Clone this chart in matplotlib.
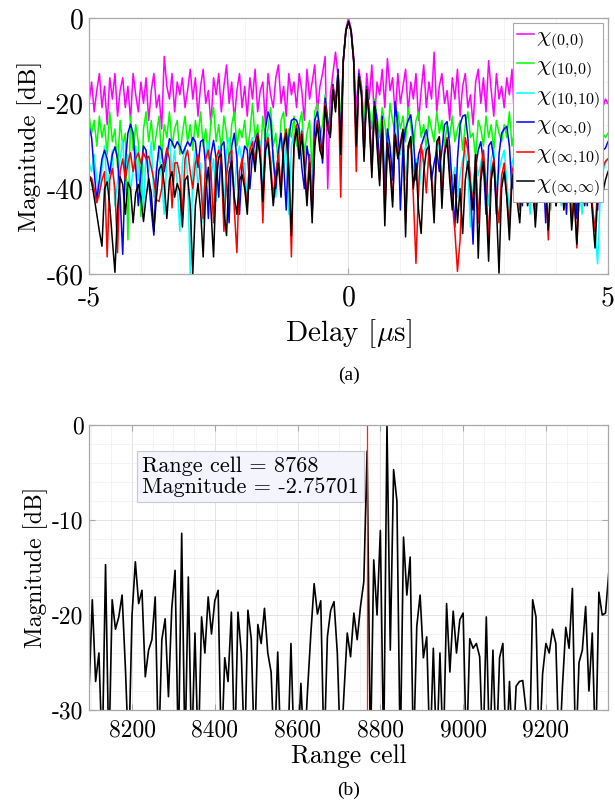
import numpy as np
import matplotlib
matplotlib.use("Agg")
import matplotlib.pyplot as plt
from matplotlib.ticker import MultipleLocator

# ---------------- (a) ambiguity cuts, delay in microseconds ----------------
delay = np.round(np.arange(-5.0, 5.0001, 0.05), 2)

chi_00 = [
    -20, -15, -22, -17, -13, -21, -16, -25, -14, -19, -13, -23, -17, -14, -21, -16, -24, -13, -18, -22,
    -15, -20, -14, -24, -17, -13, -21, -18, -26, -9, -16, -19, -13, -22, -15, -18, -14, -21, -17, -12,
    -19, -14, -23, -16, -12, -20, -17, -25, -14, -18, -13, -22, -16, -11, -20, -15, -24, -17, -13, -21,
    -16, -23, -14, -19, -12, -22, -17, -15, -25, -13, -18, -21, -14, -11, -20, -16, -23, -13, -18, -15,
    -21, -13, -17, -24, -12, -19, -15, -11, -22, -16, -13, -9, -40, -18, -13, -8, -14, -26, -10, -2.5,
    0, -2.5, -9, -22, -12, -16, -27, -13, -19, -11, -24, -15, -18, -12, -21, -9.5, -17, -14, -23, -13,
    -20, -16, -12, -22, -15, -19, -13, -24, -17, -11, -21, -15, -19, -8, -22, -16, -13, -20, -17, -24,
    -14, -19, -12, -23, -16, -13, -21, -18, -25, -15, -12, -20, -14, -22, -10, -17, -23, -13, -19, -16,
    -21, -14, -18, -12, -24, -16, -20, -13, -22, -17, -15, -23, -18, -14, -21, -16, -25, -17, -19, -22,
    -15, -20, -17, -23, -16, -21, -14, -24, -18, -22, -16, -25, -19, -17, -23, -20, -18, -24, -21, -19,
    -20]

chi_10_0 = [
    -22.6, -27, -24, -30, -23, -28, -25, -32, -22, -29, -26, -35, -24, -30, -27, -52, -23, -31, -25, -29,
    -46.5, -26, -22, -29, -24, -31, -27, -23, -33, -25, -28, -22, -30, -26, -24, -32, -27, -23, -29, -25,
    -31, -24, -28, -22, -30, -26, -33, -24, -21, -29, -25, -31, -23, -27, -34, -25, -22, -30, -26, -28,
    -24, -31, -27, -20, -28, -25, -33, -23, -29, -26, -21, -30, -27, -35, -24, -22, -31, -26, -28, -23,
    -30, -25, -22, -32, -27, -24, -36, -22, -20, -28, -25, -18, -24, -26, -16, -21, -12.5, -25, -10, -3,
    -0.8, -3, -10, -28, -13, -17, -24, -16, -21, -26, -19, -23, -28, -21, -25, -30, -20, -24, -27, -22,
    -26, -23, -29, -21, -25, -30, -24, -22, -28, -25, -31, -23, -26, -29, -22, -27, -24, -30, -25, -28,
    -23, -29, -26, -24, -31, -25, -22, -28, -27, -33, -24, -26, -30, -23, -28, -25, -31, -24, -27, -29,
    -25, -28, -22, -30, -26, -24, -31, -27, -25, -29, -33, -26, -24, -30, -28, -25, -32, -27, -26, -30,
    -27, -31, -25, -29, -34, -27, -48, -30, -26, -28, -33, -27, -25, -30, -28, -26, -31, -29, -27, -28,
    -27]

chi_10_10 = [
    -33.9, -36, -32, -38, -42, -35, -30, -40, -36, -31, -44, -38, -33, -29, -37, -32, -41, -35, -30, -38,
    -34, -45, -31, -36, -29, -42, -35, -31, -38, -46, -33, -29, -36, -31, -39, -50, -34, -30, -37, -60,
    -36, -31, -40, -34, -48, -32, -29, -37, -33, -43, -30, -35, -47, -31, -28, -36, -41, -33, -30, -34,
    -34, -44, -30, -28, -35, -31, -29, -40, -33, -27, -36, -31, -42, -32, -28, -35, -29, -46, -30, -27,
    -27, -33, -26, -36, -42, -32, -40, -29, -24, -30, -31, -19.5, -25, -27, -16, -21, -12.5, -30, -10, -3,
    -0.8, -3, -10, -32, -13.5, -17.5, -30, -17, -23, -34, -20.5, -27, -33, -24, -38, -28, -31, -36, -26, -30,
    -32, -27, -38, -30, -28, -36, -33, -42, -35, -31, -30, -33, -37, -41, -32, -29, -39, -31, -29, -34,
    -38, -35, -42, -37, -33, -31, -36, -49, -40, -32, -37, -34, -31, -38, -44, -33, -31, -40, -36, -33,
    -31, -38, -46, -34, -32, -37, -43, -33, -31, -39, -46, -35, -32, -36, -42, -34, -32, -38, -45, -35,
    -33, -39, -44, -34, -32, -38, -45, -35, -33, -40, -46, -36, -33, -38, -44, -50, -57.6, -42, -36, -34,
    -33]

chi_inf_0 = [
    -25.3, -28, -36, -42.6, -38, -33, -31, -33, -36.4, -32, -30.2, -33, -42, -55.4, -34, -27, -24.9, -27, -35, -44,
    -36, -30, -31, -38, -45, -50.9, -36, -30, -31, -36, -32, -28.3, -29, -30.5, -29, -30, -31.8, -30.5, -29, -30,
    -28, -29, -35, -29, -28.5, -35, -47, -32, -28.7, -33, -42, -30, -29, -38, -48, -30, -27, -33, -46, -34,
    -30, -31, -40, -32, -29, -27, -32, -44, -26, -22, -24, -33, -40, -31, -27, -34, -45, -28, -24, -23.6,
    -24, -26, -35, -40, -30, -34, -46, -24, -22, -26, -34, -18.8, -24, -27, -15.5, -20, -12, -30, -10, -3,
    -0.8, -3, -10, -30, -13, -17, -32, -16, -22, -35, -19.6, -24, -36, -23, -42, -26, -30, -38, -19.6, -25,
    -45, -30, -26, -24, -22.7, -28, -38, -32, -30, -28, -26.2, -30, -38, -34, -31, -36, -31, -25, -24.3, -30,
    -40, -49, -33, -25, -23, -22.7, -28, -40, -53, -35, -31, -29, -34, -46, -30, -29, -33, -46, -32, -27,
    -26, -25.4, -30, -40, -36, -31, -33, -44, -34, -30, -32, -42, -46, -33, -30, -35, -48, -34, -31, -33,
    -44, -33, -30, -35, -46, -33, -31, -38, -47, -33, -30, -36, -44, -32, -30, -37, -45, -33, -31, -30.5,
    -29]

chi_inf_10 = [
    -37, -37.5, -40, -43.3, -41, -38, -36, -56, -38, -35.3, -40, -55, -36, -33, -38, -34, -31.6, -36, -33, -31.6,
    -34, -31.6, -33, -32.4, -35, -38, -42.6, -43, -40, -34, -30.5, -33, -44.5, -34, -33.9, -37, -46, -33, -31, -36,
    -40, -34, -32, -38, -47, -33, -31, -36, -48, -33, -31, -34, -50, -37, -32, -31, -45, -55, -36, -33,
    -39, -44, -31, -29, -34, -27, -31, -48, -30, -28, -34, -42, -36, -32, -40, -29, -26, -34, -56, -29,
    -25, -31, -26.5, -33, -42, -32, -46, -29, -24, -30, -32, -20, -25, -27, -16, -21, -13, -42, -10, -3,
    -0.8, -3, -10, -36, -13.5, -17, -32, -16.5, -23, -36, -20.5, -29, -38, -24, -46, -29, -34, -43, -27, -32,
    -29, -26, -48, -31, -29, -42, -57.5, -40, -29.7, -34, -41, -31, -37, -46, -30, -28, -42, -31, -28, -36,
    -43, -50, -59.4, -52, -36, -28, -31, -38, -44, -32, -48, -36, -31, -40, -52, -36, -33, -42, -48, -37,
    -34, -42, -49, -36, -34, -40, -45, -36, -35, -42, -39, -37, -47, -39, -36, -41, -38, -52, -37, -36,
    -42, -39, -37, -43, -38, -37, -47, -41, -53.9, -39, -37, -42, -38, -37, -44, -50, -40, -37, -35, -33.6,
    -33]

chi_inf_inf = [
    -36.8, -38.5, -42, -46, -50, -53.5, -40, -38.4, -44, -52, -59.6, -45, -37.2, -39, -46, -38.5, -40, -48, -41, -39,
    -42, -47.7, -42, -37.6, -41, -50, -42, -35.5, -34.4, -39, -47, -38, -36, -42, -38.8, -40.6, -49, -38, -37, -44,
    -60, -44, -38.8, -45, -56, -40, -35, -45, -56, -38, -32.6, -32, -45, -51, -36, -33.6, -42, -46, -38, -36.7,
    -40, -46, -33, -30.5, -36, -27.8, -33, -43, -31, -29, -36, -44, -38, -34, -42, -30, -27, -36, -51, -30,
    -26, -33, -27.3, -35, -44, -34, -48, -30, -25, -31, -33, -20.7, -26, -28, -16.8, -22, -13.3, -32, -10, -3,
    -0.8, -3, -10, -30, -13.7, -18, -33.6, -16.8, -24, -37.4, -20.7, -30, -39.3, -24.3, -48.7, -29.3, -35, -44.3, -27.4, -33,
    -30, -26.2, -51.3, -30, -27.8, -40, -34, -45, -50.5, -36, -31, -30, -38, -48, -29, -27.8, -44.6, -32, -28.6, -38,
    -45, -36.7, -48, -40, -50.5, -38, -33.6, -40, -45, -32, -56.3, -38, -33.6, -42, -57, -38, -34, -44, -59.8, -40,
    -36, -42, -52, -38, -35, -43, -48, -37, -36, -44, -40, -38, -49, -40, -37, -43, -39, -49.7, -38, -37,
    -44, -40, -38, -45, -39, -38, -49.7, -42, -53, -40, -38, -44, -39, -38, -46, -53.9, -42, -39, -41, -38,
    -36]

series_a = [
    (chi_00, "#ff00ff", r"$\chi_{(0{,}0)}$"),
    (chi_10_0, "#00ff00", r"$\chi_{(10{,}0)}$"),
    (chi_10_10, "#00ffff", r"$\chi_{(10{,}10)}$"),
    (chi_inf_0, "#0000ff", r"$\chi_{(\infty{,}0)}$"),
    (chi_inf_10, "#ff0000", r"$\chi_{(\infty{,}10)}$"),
    (chi_inf_inf, "#000000", r"$\chi_{(\infty{,}\infty)}$"),
]

# ---------------- (b) range profile ----------------
range_cell = np.arange(8096, 9353, 8)
profile_db = [
    -28, -18.4, -27, -24, -35, -14.7, -35, -18.4, -21.5, -20.2,
    -17.9, -25.6, -35, -20, -14.4, -18.8, -17.4, -26.5, -23.7, -22.6,
    -18.1, -35, -22.6, -20.4, -28.6, -19.3, -15.3, -35, -11.4, -35,
    -16, -35, -21.9, -35, -20.2, -24, -18.1, -22, -18.5, -17.4,
    -35, -24.5, -27, -19.7, -35, -19.7, -24, -35, -19.5, -22.5,
    -35, -21, -23, -19.3, -24, -26, -35, -23.9, -35, -32,
    -35, -23, -35, -35, -27.2, -35, -28, -22, -16.7, -19.9,
    -18.5, -35, -22.3, -19.5, -18.6, -24, -35, -28.3, -21.9, -24.4,
    -19.8, -22.6, -19.1, -16.5, -2.757, -35, -14.2, -20, -11.1, -35,
    0, -23.7, -4.7, -8, -35, -11.8, -17.9, -13.9, -35, -21.2,
    -17.9, -24.5, -22.3, -35, -23.5, -35, -24, -35, -18.8, -26,
    -19.6, -24, -20.5, -19.8, -35, -22.5, -23.5, -23, -24.4, -35,
    -20.2, -35, -23.7, -35, -24.5, -23, -35, -27, -35, -27.5,
    -27, -26.9, -30, -35, -18.4, -20.2, -35, -26.2, -23, -24,
    -21.5, -23, -35, -27.5, -21.3, -23.5, -17.2, -35, -25, -23.7,
    -19.1, -28, -21.9, -35, -17.6, -20, -19.8, -15.5]

tip_cell = 8768
tip_mag = -2.75701

# ---------------- style ----------------
plt.rcParams["font.family"] = "cmr10"
plt.rcParams["mathtext.fontset"] = "cm"
plt.rcParams["axes.unicode_minus"] = False
plt.rcParams["axes.formatter.use_mathtext"] = False

spine_col = "#a8a8a8"


def matlab_axes(ax, tick_size, xminor, yminor):
    for s in ax.spines.values():
        s.set_color(spine_col)
        s.set_linewidth(0.9)
    ax.xaxis.set_minor_locator(MultipleLocator(xminor))
    ax.yaxis.set_minor_locator(MultipleLocator(yminor))
    ax.tick_params(which="both", direction="in", top=True, right=True,
                   color=spine_col, labelsize=tick_size)
    ax.tick_params(which="major", length=4)
    ax.tick_params(which="minor", length=0)
    ax.grid(which="major", color="#dedede", linewidth=0.6)
    ax.grid(which="minor", color="#eeeeee", linewidth=0.5)
    ax.set_axisbelow(True)


fig = plt.figure(figsize=(6.15, 8.08), dpi=100)

ax1 = fig.add_axes([0.1447, 0.6609, 0.8439, 0.3168])
for vals, col, lab in series_a:
    ax1.plot(delay, vals, color=col, linewidth=1.1, label=lab)
ax1.set_xlim(-5, 5)
ax1.set_ylim(-60, 0)
ax1.set_xticks([-5, 0, 5])
ax1.set_yticks([-60, -40, -20, 0])
matlab_axes(ax1, 20, 1, 5)
ax1.tick_params(axis="x", pad=8)
ax1.tick_params(axis="y", pad=4)
ax1.set_xlabel(r"Delay [$\mu$s]", fontsize=21, labelpad=4)
ax1.set_ylabel("Magnitude [dB]", fontsize=18, labelpad=3)
leg = ax1.legend(loc="upper right", fontsize=16.5, handlelength=0.75, handletextpad=0.1,
                 labelspacing=0.15, borderpad=0.15, borderaxespad=0.2,
                 fancybox=False, framealpha=1)
leg.get_frame().set_edgecolor(spine_col)
leg.get_frame().set_linewidth(0.8)

ax2 = fig.add_axes([0.1447, 0.1213, 0.8439, 0.3527])
ax2.plot(range_cell, profile_db, color="black", linewidth=1.2)
ax2.axvline(tip_cell, color="#ff2020", linewidth=0.9)
ax2.set_xlim(8096, 9350)
ax2.set_ylim(-30, 0)
ax2.set_xticks([8200, 8400, 8600, 8800, 9000, 9200])
ax2.set_yticks([-30, -20, -10, 0])
matlab_axes(ax2, 17, 50, 2)
ax2.tick_params(axis="x", pad=7)
ax2.tick_params(axis="y", pad=4)
ax2.set_xlabel("Range cell", fontsize=18.5, labelpad=2)
ax2.set_ylabel("Magnitude [dB]", fontsize=17, labelpad=3)
ax2.text(8225, -3.3, "Range cell = %d\nMagnitude = %s" % (tip_cell, tip_mag),
         ha="left", va="top", fontsize=16, linespacing=1.1,
         bbox=dict(boxstyle="square,pad=0.22", facecolor="#f4f4fc", edgecolor="#c8c8d0",
                   linewidth=0.8))

fig.text(0.5667, 1 - 375 / 808, "(a)", ha="center", va="center",
         family="Liberation Serif", fontsize=14)
fig.text(0.5667, 1 - 790 / 808, "(b)", ha="center", va="center",
         family="Liberation Serif", fontsize=14)

fig.savefig("out.png", dpi=100)
